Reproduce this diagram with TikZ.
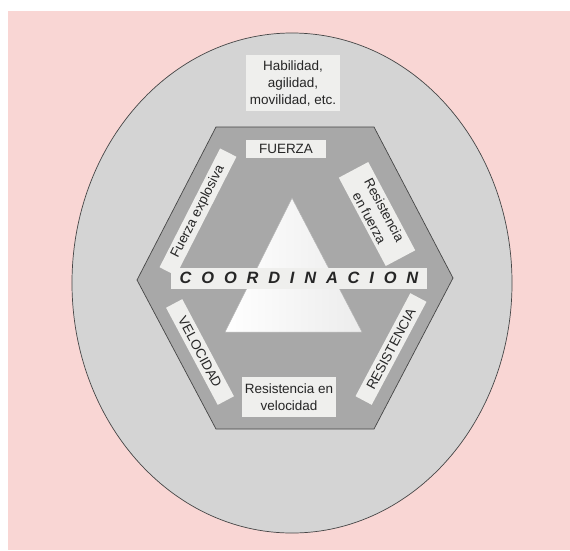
\documentclass[tikz,border=0pt]{standalone}
\usepackage{fontspec}
\setmainfont{Liberation Sans}
\newfontfamily\coordfont[LetterSpace=60]{Liberation Sans}
\definecolor{rosa}{RGB}{249,214,212}
\definecolor{grisclaro}{RGB}{212,212,212}
\definecolor{grismedio}{RGB}{168,168,168}
\definecolor{caja}{RGB}{239,239,237}

\begin{document}
\begin{tikzpicture}[
  x=0.03cm, y=-0.03cm,
  etiq/.style={fill=caja, inner sep=2pt, align=center, text=black!85,
               font=\fontsize{11.5}{14.5}\selectfont},
  borde/.style={draw=gray!55!black, line width=0.6pt},
]
  \useasboundingbox (0,0) rectangle (570,550);
  \fill[rosa] (8,11) rectangle (570,550);

  % elipse exterior
  \filldraw[fill=grisclaro, borde] (292,283) ellipse [x radius=6.6cm, y radius=7.5cm];

  % hexagono
  \filldraw[fill=grismedio, borde]
    (216,127) -- (374,127) -- (453,278) -- (374,429) -- (216,429) -- (137,280) -- cycle;

  % triangulo
  \shade[left color=white, right color=gray!15, draw=gray!60]
    (225,332) -- (292,198) -- (362,332) -- cycle;

  \node[etiq, minimum width=2.8cm, minimum height=1.7cm] (habil) at (293,83)
    {Habilidad,\\agilidad,\\movilidad, etc.};
  \node[etiq, minimum width=2.4cm, minimum height=0.55cm] (fuerza) at (286,149) {FUERZA};
  \node[etiq, rotate=63, minimum width=4cm, minimum height=0.55cm] (fexpl) at (198,212)
    {Fuerza explosiva};
  \node[etiq, rotate=-62, minimum width=3cm, minimum height=1cm] (resfza) at (377,214)
    {Resistencia\\en fuerza};
  \node[etiq, minimum width=7.65cm, minimum height=0.63cm,
        font=\coordfont\bfseries\itshape\fontsize{14}{16}\selectfont] (coord) at (299,278)
    {COORDINACION};
  \node[etiq, rotate=-62, minimum width=3.3cm, minimum height=0.55cm] (veloc) at (200,352)
    {VELOCIDAD};
  \node[etiq, rotate=62, minimum width=3.5cm, minimum height=0.55cm] (resist) at (391,349)
    {RESISTENCIA};
  \node[etiq, minimum width=2.7cm, minimum height=1.2cm] (resvel) at (289,397)
    {Resistencia en\\velocidad};
\end{tikzpicture}
\end{document}
